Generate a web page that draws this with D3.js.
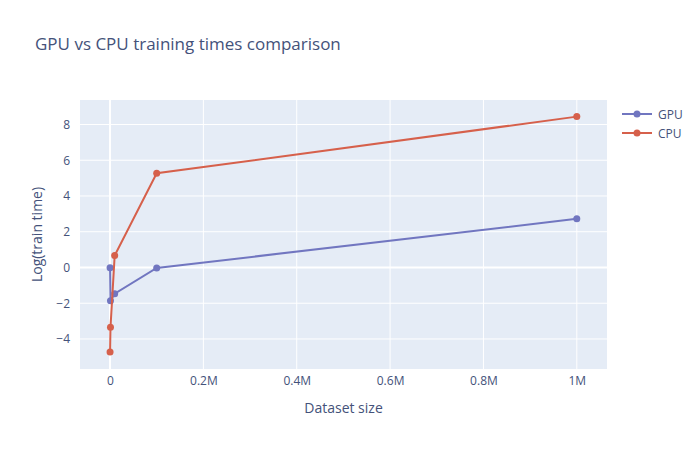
<!DOCTYPE html>
<html>
<head>
<meta charset="utf-8">
<script src="https://cdn.jsdelivr.net/npm/d3@7"></script>
<style>
body { margin: 0; background: #fff; }
text { font-family: "Open Sans", sans-serif; }
</style>
</head>
<body>
<script>
var width = 700, height = 450;
var margin = {left: 80, right: 93, top: 100, bottom: 81};
var textColor = "#44527a";

// data
var datasetSizes = [100, 1000, 10000, 100000, 1000000];
var gpuTimes = [-0.01, -1.86, -1.47, -0.03, 2.72];
var cpuTimes = [-4.73, -3.35, 0.67, 5.27, 8.44];
var seriesNames = ["GPU", "CPU"];
var seriesColors = ["#7176c0", "#d6604b"];
var xTicks = [0, 200000, 400000, 600000, 800000, 1000000];
var xTickLabels = ["0", "0.2M", "0.4M", "0.6M", "0.8M", "1M"];
var yTicks = [-4, -2, 0, 2, 4, 6, 8];

var svg = d3.select("body").append("svg")
    .attr("width", width)
    .attr("height", height);

var plotW = width - margin.left - margin.right,
    plotH = height - margin.top - margin.bottom;

var x = d3.scaleLinear().domain([-64300, 1064700]).range([0, plotW]);
var y = d3.scaleLinear().domain([-5.68, 9.37]).range([plotH, 0]);

var g = svg.append("g")
    .attr("transform", "translate(" + margin.left + "," + margin.top + ")");

g.append("rect")
    .attr("width", plotW)
    .attr("height", plotH)
    .attr("fill", "#e5ecf6");

// grid lines
g.selectAll(".xgrid").data(xTicks).enter().append("line")
    .attr("x1", function (d) { return x(d); })
    .attr("x2", function (d) { return x(d); })
    .attr("y1", 0).attr("y2", plotH)
    .attr("stroke", "#fff")
    .attr("stroke-width", function (d) { return d === 0 ? 2 : 1; });

g.selectAll(".ygrid").data(yTicks).enter().append("line")
    .attr("y1", function (d) { return y(d); })
    .attr("y2", function (d) { return y(d); })
    .attr("x1", 0).attr("x2", plotW)
    .attr("stroke", "#fff")
    .attr("stroke-width", function (d) { return d === 0 ? 2 : 1; });

// axes (labels only, plotly style)
var xAxis = d3.axisBottom(x).tickValues(xTicks)
    .tickFormat(function (d, i) { return xTickLabels[i]; })
    .tickSize(0).tickPadding(7);
var xg = g.append("g").attr("transform", "translate(0," + plotH + ")").call(xAxis);
xg.select(".domain").remove();
xg.selectAll("text").attr("font-size", 12).attr("fill", textColor)
    .attr("font-family", "'Open Sans', sans-serif");

var yAxis = d3.axisLeft(y).tickValues(yTicks)
    .tickFormat(function (d) { return d < 0 ? "\u2212" + Math.abs(d) : d; })
    .tickSize(0).tickPadding(10);
var yg = g.append("g").call(yAxis);
yg.select(".domain").remove();
yg.selectAll("text").attr("font-size", 12).attr("fill", textColor)
    .attr("font-family", "'Open Sans', sans-serif");

var line = d3.line()
    .x(function (d) { return x(d[0]); })
    .y(function (d) { return y(d[1]); });

var series = [gpuTimes, cpuTimes].map(function (vals, i) {
    return {
        name: seriesNames[i],
        color: seriesColors[i],
        points: datasetSizes.map(function (s, j) { return [s, vals[j]]; })
    };
});

var sg = g.selectAll(".series").data(series).enter().append("g");
sg.append("path")
    .attr("d", function (d) { return line(d.points); })
    .attr("fill", "none")
    .attr("stroke", function (d) { return d.color; })
    .attr("stroke-width", 2);
sg.selectAll("circle")
    .data(function (d) { return d.points.map(function (p) { return {p: p, c: d.color}; }); })
    .enter().append("circle")
    .attr("cx", function (d) { return x(d.p[0]); })
    .attr("cy", function (d) { return y(d.p[1]); })
    .attr("r", 3.5)
    .attr("fill", function (d) { return d.c; });

// title
svg.append("text")
    .attr("x", 35).attr("y", 50)
    .attr("font-size", 17)
    .attr("fill", textColor)
    .text("GPU vs CPU training times comparison");

// axis titles
svg.append("text")
    .attr("x", margin.left + plotW / 2).attr("y", 413)
    .attr("text-anchor", "middle")
    .attr("font-size", 14)
    .attr("fill", textColor)
    .text("Dataset size");

svg.append("text")
    .attr("transform", "translate(42," + (margin.top + plotH / 2) + ") rotate(-90)")
    .attr("text-anchor", "middle")
    .attr("font-size", 14)
    .attr("fill", textColor)
    .text("Log(train time)");

// legend
var leg = svg.selectAll(".legend").data(series).enter().append("g")
    .attr("transform", function (d, i) { return "translate(622," + (114 + i * 19) + ")"; });
leg.append("line")
    .attr("x1", 0).attr("x2", 30)
    .attr("stroke", function (d) { return d.color; })
    .attr("stroke-width", 2);
leg.append("circle")
    .attr("cx", 15).attr("r", 3.5)
    .attr("fill", function (d) { return d.color; });
leg.append("text")
    .attr("x", 36).attr("y", 4.5)
    .attr("font-size", 12)
    .attr("fill", textColor)
    .text(function (d) { return d.name; });
</script>
</body>
</html>
